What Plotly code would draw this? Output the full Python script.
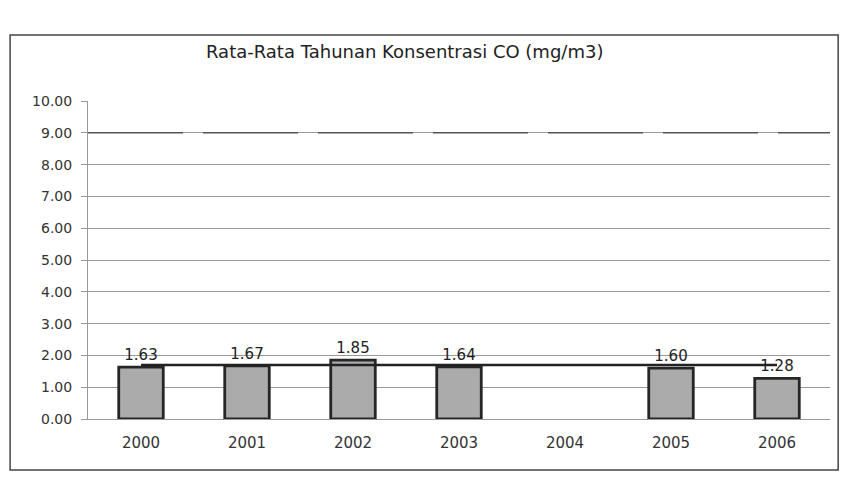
import plotly.graph_objects as go

years = ["2000", "2001", "2002", "2003", "2004", "2005", "2006"]
co_values = [1.63, 1.67, 1.85, 1.64, None, 1.60, 1.28]
co_labels = ["1.63", "1.67", "1.85", "1.64", "", "1.60", "1.28"]
mean_line = [1.70, 1.70, 1.70, 1.70, 1.70, 1.70, 1.70]
baku_mutu = 9.0
y_ticks = [0, 1, 2, 3, 4, 5, 6, 7, 8, 9, 10]
y_ticklabels = ["%.2f" % v for v in y_ticks]
title = "Rata-Rata Tahunan Konsentrasi CO (mg/m3)"

font = "DejaVu Sans, Liberation Sans, sans-serif"

fig = go.Figure()
fig.add_trace(go.Bar(
    x=years, y=co_values, text=co_labels, textposition="outside",
    textfont=dict(size=15, color="#222", family=font),
    marker=dict(color="#ababab", line=dict(color="#262626", width=2.8)),
    width=0.42, cliponaxis=False, showlegend=False,
))
fig.add_trace(go.Scatter(
    x=years, y=mean_line, mode="lines",
    line=dict(color="#222", width=2.5), showlegend=False,
))
fig.add_shape(type="line", xref="paper", yref="y", x0=0, x1=1,
              y0=baku_mutu, y1=baku_mutu,
              line=dict(color="#555", width=1.6, dash="95px,20px"))
fig.add_shape(type="rect", xref="paper", yref="paper",
              x0=-0.105, x1=1.011, y0=-0.160, y1=1.2075,
              line=dict(color="#444", width=1.5), layer="below")

fig.update_layout(
    width=849, height=479,
    margin=dict(l=88, r=19, t=101, b=60),
    paper_bgcolor="white", plot_bgcolor="white",
    font=dict(family=font, size=14, color="#333"),
    bargap=0.58,
    annotations=[dict(text=title, xref="paper", yref="paper", x=0.427, y=1.157,
                      xanchor="center", yanchor="middle",
                      showarrow=False, font=dict(size=18, color="#222", family=font))],
)
fig.update_xaxes(type="category", showline=True, linecolor="#999", ticks="",
                 tickfont=dict(size=15, color="#333"), ticklabelstandoff=10)
fig.update_yaxes(range=[0, 10], tickvals=y_ticks, ticktext=y_ticklabels,
                 showgrid=True, gridcolor="#999", gridwidth=1,
                 showline=True, linecolor="#999", ticks="outside", ticklen=6,
                 tickcolor="#999", tickfont=dict(size=14, color="#333"),
                 ticklabelstandoff=6, zeroline=False)

fig.write_html("out.html")
